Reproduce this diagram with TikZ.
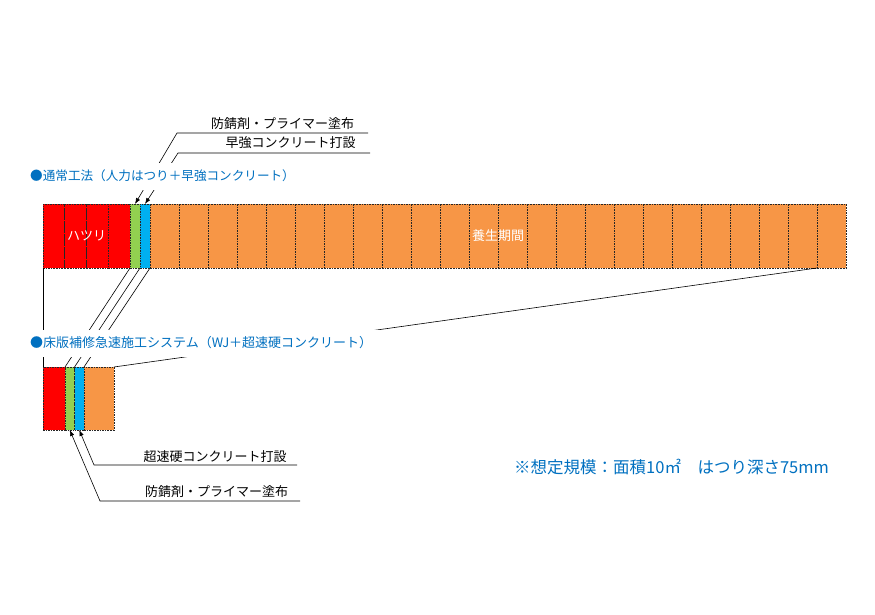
\documentclass[tikz,border=0pt]{standalone}
\usepackage{fontspec}
\setmainfont{Noto Sans CJK JP}
\usetikzlibrary{arrows.meta}
\definecolor{hatsuri}{HTML}{FF0000}
\definecolor{primer}{HTML}{92D050}
\definecolor{concrete}{HTML}{00B0F0}
\definecolor{curing}{HTML}{F79646}
\definecolor{headblue}{HTML}{0070C0}
\tikzset{
  cell/.style={draw=black!85, line width=.55pt, dash pattern=on 1.6pt off 1pt,
    anchor=north west, inner sep=0pt, outer sep=0pt},
  topcell/.style={cell, minimum height=64pt},
  lowcell/.style={cell, minimum height=63pt},
  celltext/.style={text=white, font=\fontsize{13}{15}\selectfont},
  lbl/.style={font=\fontsize{13}{15}\selectfont, inner sep=0pt},
  heading/.style={text=headblue, fill=white, anchor=west, align=left,
    inner xsep=10pt, minimum height=27pt, font=\fontsize{13}{15}\selectfont},
  link/.style={line width=.6pt},
  lead/.style={line width=.6pt, -{Latex[length=6pt,width=4.5pt]}}
}
\begin{document}
\begin{tikzpicture}[x=1pt,y=-1pt]
  \useasboundingbox (0,0) rectangle (875,615);
  \foreach \i in {1,...,4}
    \node[topcell, fill=hatsuri, minimum width=21.75pt] (h\i) at ({43+21.75*(\i-1)},204) {};
  \node[topcell, fill=primer, minimum width=10pt] (p1) at (130,204) {};
  \node[topcell, fill=concrete, minimum width=10pt] (c1) at (140,204) {};
  \foreach \i in {1,...,24}
    \node[topcell, fill=curing, minimum width=29pt] (y\i) at ({150+29*(\i-1)},204) {};
  \node[celltext] (hatsuri) at (h2.east) {ハツリ};
  \node[celltext] (curing) at (y12.east) {養生期間};

  \node[lowcell, fill=hatsuri, minimum width=22pt] (wr) at (43,367) {};
  \node[lowcell, fill=primer, minimum width=9.5pt] (wp) at (65,367) {};
  \node[lowcell, fill=concrete, minimum width=9.5pt] (wc) at (74.5,367) {};
  \node[lowcell, fill=curing, minimum width=30pt] (wy) at (84,367) {};

  \draw[link] (h1.south west) -- (wr.north west);
  \draw[link] (p1.south west) -- (wp.north west);
  \draw[link] (c1.south west) -- (wc.north west);
  \draw[link] (c1.south east) -- (wy.north west);
  \draw[link] (y24.south west) -- (wy.north east);

  \node[lbl] (primerA) at (282.5,124) {防錆剤・プライマー塗布};
  \node[lbl] (rapidA) at (290.5,143) {早強コンクリート打設};
  \coordinate (primerAl) at (177,133);
  \coordinate (primerAr) at (368,133);
  \coordinate (rapidAl) at (178,153);
  \coordinate (rapidAr) at (370,153);
  \draw[lead] (primerAr) -- (primerAl) -- (p1.north);
  \draw[lead] (rapidAr) -- (rapidAl) -- (c1.north);

  \node[lbl] (rapidB) at (215,457) {超速硬コンクリート打設};
  \node[lbl] (primerB) at (216.5,492) {防錆剤・プライマー塗布};
  \coordinate (rapidBl) at (94,465);
  \coordinate (rapidBr) at (297,465);
  \coordinate (primerBl) at (100,501);
  \coordinate (primerBr) at (300,501);
  \draw[lead] (rapidBr) -- (rapidBl) -- (wc.south);
  \draw[lead] (primerBr) -- (primerBl) -- (wp.south);

  \node[heading, text width=270pt, font=\fontsize{12.6}{15}\selectfont] (normal) at (20,176) {●通常工法（人力はつり＋早強コンクリート）};
  \node[heading, text width=355pt] (rapid) at (20,343) {●床版補修急速施工システム（WJ＋超速硬コンクリート）};
  \node[text=headblue, anchor=west, inner sep=0pt, font=\fontsize{16.5}{19}\selectfont] (scale) at (514,467) {※想定規模：面積10㎡　はつり深さ75mm};
\end{tikzpicture}
\end{document}
